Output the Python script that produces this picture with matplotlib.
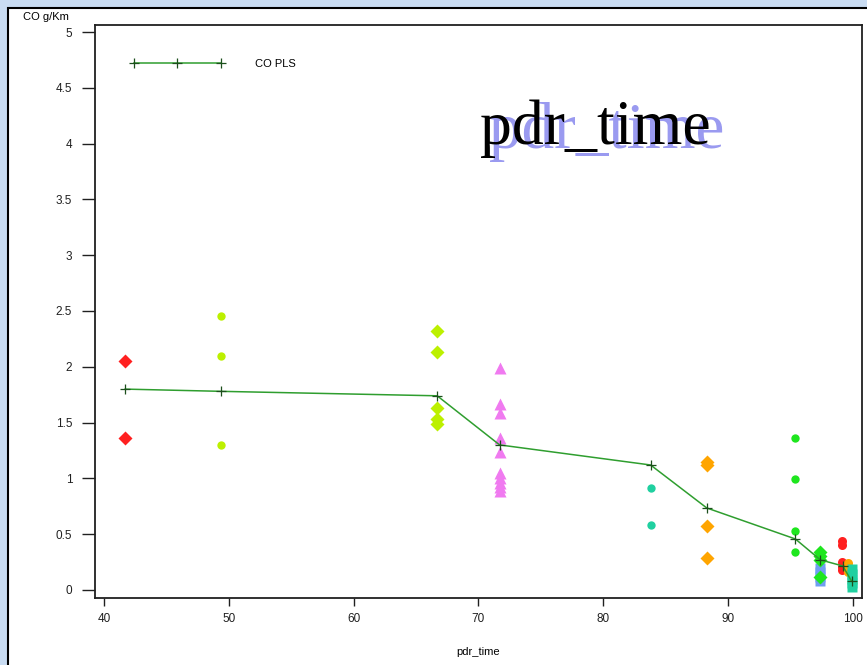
import matplotlib
matplotlib.use("Agg")
import matplotlib.pyplot as plt
from matplotlib.patches import Rectangle
from matplotlib.legend_handler import HandlerLine2D

# ---- data ----
pls_x = [41.7, 49.4, 66.7, 71.7, 83.8, 88.3, 95.4, 97.4, 99.2, 99.9]
pls_y = [1.80, 1.78, 1.74, 1.30, 1.12, 0.735, 0.457, 0.27, 0.215, 0.08]

red_d_x, red_d_y = 41.7, [2.05, 1.36]
yg_c_x, yg_c_y = 49.4, [2.455, 2.10, 1.30]
yg_d_x, yg_d_y = 66.7, [2.32, 2.13, 1.63, 1.53, 1.49]
vio_t_x, vio_t_y = 71.7, [1.99, 1.67, 1.59, 1.36, 1.24, 1.05, 1.00, 0.96, 0.92, 0.89]
teal_c_x, teal_c_y = 83.8, [0.91, 0.58]
org_d_x, org_d_y = 88.3, [1.15, 1.12, 0.57, 0.29]
grn_c_x, grn_c_y = 95.4, [1.36, 0.99, 0.53, 0.34]
grn_d_x, grn_d_y = 97.4, [0.34, 0.30, 0.27, 0.12]
blu_s_x, blu_s_y = 97.4, [0.20, 0.16, 0.12, 0.08]
red_c_x, red_c_y = 99.1, [0.44, 0.40, 0.25, 0.21, 0.18]
org_c_x, org_c_y = 99.6, [0.24, 0.20, 0.16]
teal_s_x, teal_s_y = 99.9, [0.19, 0.14, 0.10, 0.06, 0.03]

xticks = [40, 50, 60, 70, 80, 90, 100]
yticks = [0, 0.5, 1, 1.5, 2, 2.5, 3, 3.5, 4, 4.5, 5]
ytick_labels = ["0", "0.5", "1", "1.5", "2", "2.5", "3", "3.5", "4", "4.5", "5"]

# ---- figure ----
plt.rcParams['font.family'] = ['Liberation Sans', 'DejaVu Sans']
fig = plt.figure(figsize=(8.67, 6.65), dpi=100)
fig.patch.set_facecolor('#c9dcf2')

# white panel with black border (background axes)
bg = fig.add_axes([0, 0, 1, 1], zorder=-10)
bg.set_axis_off()
bg.set_xlim(0, 1)
bg.set_ylim(0, 1)
bg.add_patch(Rectangle((8 / 867, -0.05), 1.1, 1 - 8 / 665 + 0.05,
                       facecolor='white', edgecolor='black', linewidth=1.5))

ax = fig.add_axes([95 / 867, 1 - 598 / 665, (862 - 95) / 867, (598 - 25) / 665], zorder=1)
ax.set_facecolor('white')
ax.set_xlim(39.28, 100.74)
ax.set_ylim(-0.072, 5.063)

def col(x, ys):
    return [x] * len(ys), ys

ms_c = 6
ms_d = 7
kw = dict(linestyle='none', zorder=3)
ax.plot(*col(red_d_x, red_d_y), marker='D', ms=ms_d, color='#ff2020', mec='none', **kw)
ax.plot(*col(yg_c_x, yg_c_y), marker='o', ms=ms_c, color='#bcf000', mec='none', **kw)
ax.plot(*col(yg_d_x, yg_d_y), marker='D', ms=ms_d, color='#bcf000', mec='none', **kw)
ax.plot(*col(vio_t_x, vio_t_y), marker='^', ms=9, color='#f07af0', mec='none', **kw)
ax.plot(*col(teal_c_x, teal_c_y), marker='o', ms=ms_c, color='#20d0a0', mec='none', **kw)
ax.plot(*col(org_d_x, org_d_y), marker='D', ms=ms_d, color='#ffa500', mec='none', **kw)
ax.plot(*col(grn_c_x, grn_c_y), marker='o', ms=ms_c, color='#1ee61e', mec='none', **kw)
ax.plot(*col(blu_s_x, blu_s_y), marker='s', ms=6.5, color='#6f9ef0', mec='none', **kw)
ax.plot(*col(grn_d_x, grn_d_y), marker='D', ms=ms_d, color='#1ee61e', mec='none', **kw)
ax.plot(*col(red_c_x, red_c_y), marker='o', ms=ms_c + 0.5, color='#ff2020', mec='none', **kw)
ax.plot(*col(org_c_x, org_c_y), marker='o', ms=ms_c + 0.5, color='#ffa500', mec='none', **kw)
ax.plot(*col(teal_s_x, teal_s_y), marker='s', ms=7, color='#20d0a0', mec='none', **kw)

line, = ax.plot(pls_x, pls_y, color='#2f9e2f', lw=1.1, marker='+', ms=7,
                mew=0.9, mec='#1c4f1c', zorder=5, label='CO PLS')

leg = ax.legend(handles=[line], loc='center left', bbox_to_anchor=(28 / 767, (598 - 64) / 573),
                frameon=False, fontsize=8, handlelength=9.8, handletextpad=2.1,
                borderpad=0, borderaxespad=0,
                handler_map={line: HandlerLine2D(marker_pad=1.0, numpoints=3)})

# axes styling
for s in ax.spines.values():
    s.set_linewidth(1.3)
    s.set_color('#202020')
ax.set_xticks(xticks)
ax.set_xticklabels([str(v) for v in xticks])
ax.set_yticks(yticks)
ax.set_yticklabels(ytick_labels)
ax.tick_params(axis='y', direction='out', length=9.4, width=1.0, pad=7, labelsize=8.5, colors='#202020')
ax.tick_params(axis='x', direction='out', length=6, width=1.0, pad=5, labelsize=8.5, colors='#202020')

# texts
fig.text(23 / 867, 1 - 17 / 665, 'CO g/Km', fontsize=8, ha='left', va='center')
fig.text(478.5 / 867, 1 - 652 / 665, 'pdr_time', fontsize=8, ha='center', va='center')

fig.text(607 / 867, 1 - 148 / 665, 'pdr_time', family='Liberation Serif', fontsize=47,
         color='#9a9af0', ha='center', va='baseline', zorder=5)
fig.text(595 / 867, 1 - 144 / 665, 'pdr_time', family='Liberation Serif', fontsize=46,
         color='black', ha='center', va='baseline', zorder=6)

fig.savefig('out.png', dpi=100, facecolor=fig.get_facecolor())
